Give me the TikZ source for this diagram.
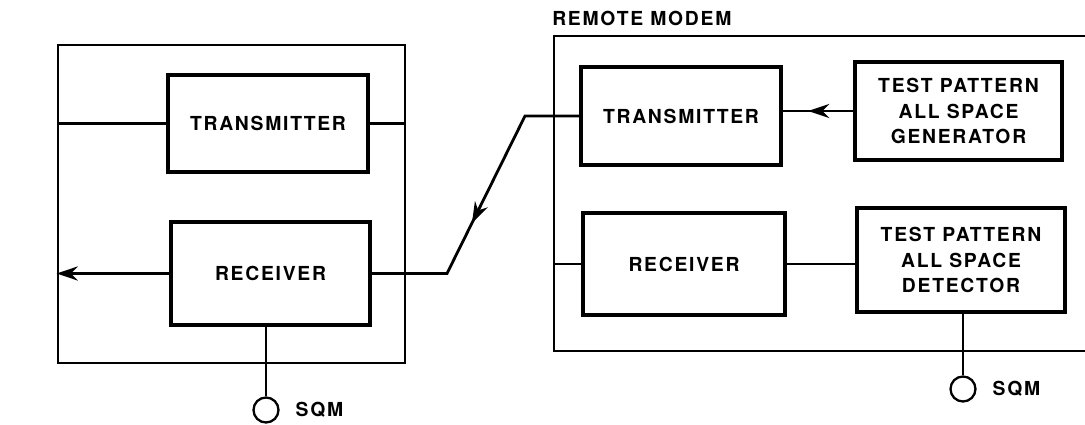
\documentclass[tikz,border=0pt]{standalone}
\usepackage{fontspec}
\setmainfont{TeX Gyre Heros}
\usetikzlibrary{arrows.meta,decorations.markings}
\begin{document}
\begin{tikzpicture}[x=0.02cm, y=-0.02cm, >={Stealth[length=12pt,width=8pt]}, line width=1.6pt,
  lbl/.style={font=\fontsize{11pt}{14.7pt}\selectfont\bfseries\addfontfeature{LetterSpace=9}},
  blk/.style={draw, rectangle, line width=2.3pt, align=center, inner sep=0pt, lbl},
  sqm/.style={draw, circle, minimum size=0.5cm, inner sep=0pt, line width=1.3pt},
  midarrow/.style={postaction={decorate}, decoration={markings, mark=at position #1 with {\arrow{>}}}}]
\useasboundingbox (0,0) rectangle (1085,425);
\node[draw, rectangle, minimum width=6.94cm, minimum height=6.36cm] (lbox) at (231.5,204) {};
\node[blk, minimum width=4cm, minimum height=1.94cm] (ltx) at (268,123.5) {TRANSMITTER};
\node[blk, minimum width=3.98cm, minimum height=2.06cm] (lrx) at (270.5,273.5) {RECEIVER};
\node[sqm] (lsqm) at (266,410) {};
\node[lbl, anchor=west] (lsqmtext) at ([xshift=5pt]lsqm.east) {SQM};
\node[lbl, anchor=west] (rmlabel) at (545,18) {REMOTE MODEM};
\coordinate (rmtr) at (1086,36);
\coordinate (rmtl) at (554,36);
\coordinate (rmbl) at (554,351);
\coordinate (rmbr) at (1086,351);
\draw (rmtr) -- (rmtl) -- (rmbl) -- (rmbr);
\node[blk, minimum width=4cm, minimum height=1.96cm] (rtx) at (681,116) {TRANSMITTER};
\node[blk, minimum width=4.14cm, minimum height=1.96cm] (gen) at (958.5,111) {TEST PATTERN\\ALL SPACE\\GENERATOR};
\node[blk, minimum width=4.04cm, minimum height=2.04cm] (rrx) at (684,264) {RECEIVER};
\node[blk, minimum width=4.16cm, minimum height=2.08cm] (det) at (961,260) {TEST PATTERN\\ALL SPACE\\DETECTOR};
\node[sqm] (rsqm) at (963,389) {};
\node[lbl, anchor=west] (rsqmtext) at ([xshift=5pt]rsqm.east) {SQM};
\coordinate (k1) at (525,116);
\coordinate (k2) at (447,273.5);
\draw (ltx.west) -- (ltx.west -| lbox.west);
\draw (ltx.east) -- (ltx.east -| lbox.east);
\draw[->] (lrx.west) -- (lrx.west -| lbox.west);
\draw[midarrow=0.57] (rtx.west) -- (k1) -- (k2) -- (lrx.east);
\draw[midarrow=0.64] (gen.west) -- (gen.west -| rtx.east);
\draw (rrx.west) -- (rrx.west -| rmtl);
\draw (rrx.east) -- (rrx.east -| det.west);
\draw (lsqm.north |- lrx.south) -- (lsqm.north);
\draw (rsqm.north |- det.south) -- (rsqm.north);
\end{tikzpicture}
\end{document}
